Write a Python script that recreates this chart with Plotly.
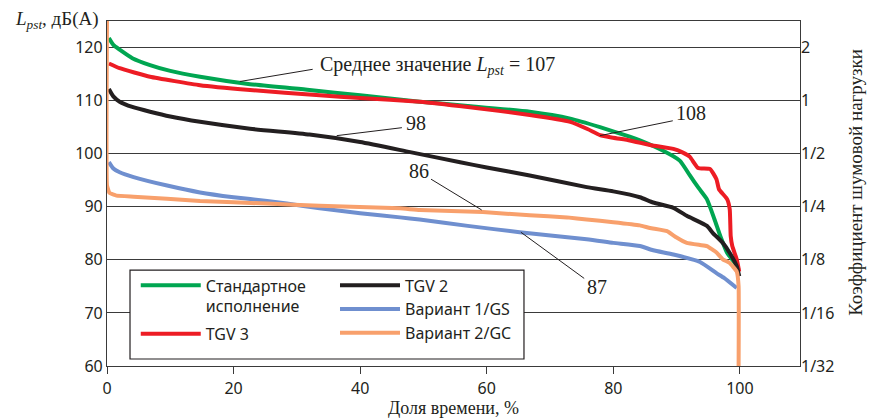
import plotly.graph_objects as go

# ---------------- data ----------------
std_x = [0.3, 1, 2, 4, 6.8, 10, 14.7, 22.6, 32, 40, 49.4, 57, 66.8, 73.2, 77.9, 82.6, 84.2, 87.8,
         90.5, 92.1, 93.5, 94.8, 96, 96.9, 98, 99.2, 99.8]
std_y = [121.8, 120.5, 119.6, 118.0, 116.7, 115.6, 114.5, 113.1, 112.0, 111.0, 109.8, 109.0, 107.9,
         106.6, 105.0, 103.2, 102.5, 100.6, 98.7, 95.9, 93.5, 91.4, 87.6, 84.5, 81.3, 79.4, 78.2]

tgv3_x = [0.3, 2, 6.8, 14.7, 22.6, 33.6, 40, 49.4, 57, 66.8, 73.2, 76, 77.9, 80, 82.6, 86, 89.5,
          91, 92.1, 93.4, 95.3, 96.3, 96.7, 98, 98.4, 98.55, 98.8, 99.5, 99.9]
tgv3_y = [117.0, 116.1, 114.5, 112.9, 112.0, 111.0, 110.5, 109.8, 108.8, 107.3, 106.0, 104.6, 103.5,
          103.0, 102.5, 101.6, 100.9, 100.2, 99.4, 97.3, 97.1, 95.2, 93.3, 91.4, 89.5, 84.5, 82.6,
          80.1, 77.8]

tgv2_x = [0.3, 1, 2, 4, 6.8, 10, 14.7, 22.6, 32, 40, 47.9, 55.8, 60, 66.8, 75.8, 80, 84.2, 86.3,
          89.5, 91.6, 94.8, 95.7, 97.3, 98.4, 99.5, 99.9]
tgv2_y = [112.2, 110.8, 109.8, 108.8, 107.9, 107.0, 106.0, 104.7, 103.6, 102.2, 100.3, 98.4, 97.4,
          95.9, 93.7, 92.9, 91.8, 90.8, 89.8, 88.3, 86.4, 85.1, 83.2, 81.3, 78.8, 76.9]

gs_x = [0.3, 1, 2, 4.2, 9.5, 14.7, 20, 25.3, 28.4, 33.6, 40, 46.3, 49.4, 57, 65.2, 75.8, 80, 84.2,
        86.3, 89.5, 93.7, 96.3, 97.5, 99.5]
gs_y = [98.4, 97.2, 96.5, 95.6, 94.0, 92.7, 91.8, 91.1, 90.6, 89.7, 88.8, 88.0, 87.6, 86.4, 85.2,
        83.9, 83.2, 82.6, 81.8, 81.0, 79.6, 77.5, 76.6, 74.7]

gc_x = [0, 0, 0.4, 1.5, 4.2, 14.7, 25.3, 33.6, 46.3, 49.4, 59.4, 66.8, 72.7, 75.8, 80, 84.2, 85.8,
        88.5, 90, 91.6, 93.7, 94.8, 96.3, 97.3, 98.4, 99.5, 99.8, 99.8]
gc_y = [125, 94, 92.6, 92.1, 91.9, 91.1, 90.6, 90.2, 89.7, 89.4, 89.0, 88.4, 88.0, 87.6, 87.1, 86.5,
        86.0, 85.4, 84.2, 83.2, 82.8, 82.6, 81.4, 80.1, 79.4, 77.8, 75.0, 60]

x_ticks = [0, 20, 40, 60, 80, 100]
y_ticks = [60, 70, 80, 90, 100, 110, 120]
y2_ticktext = ["1/32", "1/16", "1/8", "1/4", "1/2", "1", "2"]

SANS = "Noto Sans, Open Sans, sans-serif"
SERIF = "Liberation Serif, DejaVu Serif, serif"

fig = go.Figure()
LW = 4
SM = 0.5
fig.add_trace(go.Scatter(x=std_x, y=std_y, mode="lines", name="Стандартное<br>исполнение",
                         line=dict(color="#00a651", width=LW, shape="spline", smoothing=SM),
                         legend="legend", legendgroup="a"))
fig.add_trace(go.Scatter(x=tgv3_x, y=tgv3_y, mode="lines", name="TGV 3",
                         line=dict(color="#ed1c24", width=LW, shape="spline", smoothing=0.4),
                         legend="legend", legendgroup="b"))
fig.add_trace(go.Scatter(x=tgv2_x, y=tgv2_y, mode="lines", name="TGV 2",
                         line=dict(color="#231f20", width=LW, shape="spline", smoothing=SM),
                         legend="legend2"))
fig.add_trace(go.Scatter(x=gs_x, y=gs_y, mode="lines", name="Вариант 1/GS",
                         line=dict(color="#6f8fcf", width=LW, shape="spline", smoothing=SM),
                         legend="legend2"))
fig.add_trace(go.Scatter(x=gc_x, y=gc_y, mode="lines", name="Вариант 2/GC",
                         line=dict(color="#f8a06c", width=LW, shape="spline", smoothing=0.3),
                         legend="legend2", yaxis="y2"))

GRID = "#3a3a3a"
fig.update_layout(
    width=870, height=419,
    margin=dict(l=107, r=70, t=21, b=53),
    paper_bgcolor="white", plot_bgcolor="white",
    font=dict(family=SANS, size=16, color="#231f20"),
    xaxis=dict(range=[0, 109.5], tickvals=x_ticks, ticks="outside", ticklen=7, tickcolor=GRID,
               showline=True, linecolor=GRID, linewidth=1.2, mirror=True, showgrid=False,
               zeroline=False, tickfont=dict(family=SANS, size=16), ticklabelstandoff=1,
               automargin=False),
    yaxis=dict(range=[60, 125], tickvals=y_ticks, ticks="", showgrid=True, gridcolor=GRID,
               gridwidth=1.2, showline=True, linecolor=GRID, linewidth=1.2, mirror=True,
               zeroline=False, tickfont=dict(family=SANS, size=16), automargin=False),
    yaxis2=dict(range=[60, 125], tickvals=y_ticks, ticktext=y2_ticktext, overlaying="y",
                side="right", showgrid=False, zeroline=False, ticks="", automargin=False,
                tickfont=dict(family=SANS, size=16)),
    legend=dict(x=0.0415, y=0.283, xanchor="left", yanchor="top", bgcolor="rgba(0,0,0,0)",
                font=dict(family=SANS, size=16), valign="top", tracegroupgap=4,
                itemwidth=60),
    legend2=dict(x=0.329, y=0.283, xanchor="left", yanchor="top", bgcolor="rgba(0,0,0,0)",
                 font=dict(family=SANS, size=16), valign="top", itemwidth=60),
    showlegend=True,
)

# legend frame
fig.add_shape(type="rect", xref="paper", yref="paper", x0=0.0332, x1=0.6017, y0=0.0203, y1=0.278,
              line=dict(color="#231f20", width=1.2), fillcolor="white", layer="above")

# leader lines
leaders = [
    (21.0, 113.6, 32.5, 115.9),
    (36.3, 103.4, 46.6, 104.9),
    (51.2, 95.2, 59.2, 89.4),
    (65.4, 85.2, 75.4, 76.5),
    (77.9, 103.4, 89.4, 106.2),
]
for x0, y0, x1, y1 in leaders:
    fig.add_shape(type="line", xref="x", yref="y", x0=x0, y0=y0, x1=x1, y1=y1,
                  line=dict(color="#231f20", width=1))

labels = [
    ("Среднее значение <i>L</i><sub><i>pst</i></sub> = 107", 33.3, 116.6, "left"),
    ("98", 48.8, 105.7, "center"),
    ("86", 49.3, 96.8, "center"),
    ("87", 77.4, 74.8, "center"),
    ("108", 92.3, 107.6, "center"),
]
for t, x, y, xa in labels:
    fig.add_annotation(text=t, x=x, y=y, xref="x", yref="y", showarrow=False, xanchor=xa,
                       yanchor="middle", font=dict(family=SERIF, size=20, color="#231f20"))

fig.add_annotation(text="<i>L</i><sub><i>pst</i></sub>, дБ(А)", xref="paper", yref="paper",
                   x=-0.008, y=1.003, xanchor="right", yanchor="middle", showarrow=False,
                   font=dict(family=SERIF, size=19, color="#231f20"))
fig.add_annotation(text="Коэффициент шумовой нагрузки", xref="paper", yref="paper",
                   x=1.079, y=0.533, xanchor="center", yanchor="middle", showarrow=False,
                   textangle=-90, font=dict(family=SERIF, size=19, color="#231f20"))
fig.add_annotation(text="Доля времени, %", xref="paper", yref="paper",
                   x=0.5, y=-0.121, xanchor="center", yanchor="middle", showarrow=False,
                   font=dict(family=SERIF, size=18, color="#231f20"))

fig.write_html("out.html")
